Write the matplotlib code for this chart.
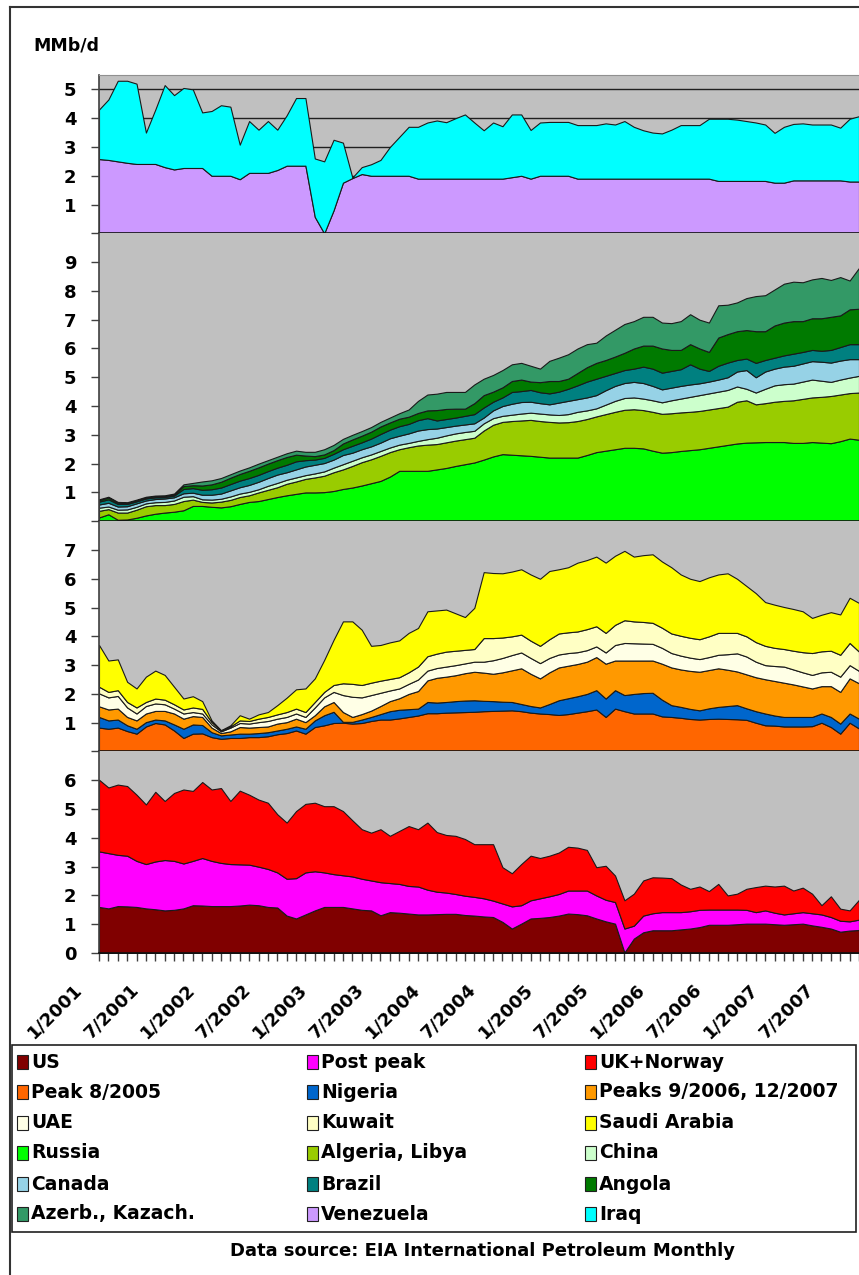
import matplotlib.pyplot as plt
from matplotlib.patches import Rectangle
from matplotlib.lines import Line2D
from matplotlib.transforms import ScaledTranslation

# monthly points, 1/2001 onwards
months = list(range(82))
date_labels = ["1/2001", "7/2001", "1/2002", "7/2002", "1/2003", "7/2003", "1/2004",
               "7/2004", "1/2005", "7/2005", "1/2006", "7/2006", "1/2007", "7/2007"]

# --- panel 1 (top) ---
venezuela = [2.58, 2.55, 2.5, 2.45, 2.41, 2.41, 2.41, 2.3, 2.22, 2.27,
             2.27, 2.27, 2.0, 2.0, 2.0, 1.88, 2.1, 2.1, 2.1, 2.2,
             2.35, 2.35, 2.35, 0.57, 0.0, 0.8, 1.76, 1.92, 2.06, 2.0,
             2.0, 2.0, 2.0, 2.0, 1.9, 1.9, 1.9, 1.9, 1.9, 1.9,
             1.9, 1.9, 1.9, 1.9, 1.95, 2.0, 1.9, 2.0, 2.0, 2.0,
             2.0, 1.9, 1.9, 1.9, 1.9, 1.9, 1.9, 1.9, 1.9, 1.9,
             1.9, 1.9, 1.9, 1.9, 1.9, 1.9, 1.82, 1.82, 1.82, 1.82,
             1.82, 1.82, 1.76, 1.76, 1.84, 1.84, 1.84, 1.84, 1.84, 1.84,
             1.8, 1.8]
iraq = [1.72, 2.1, 2.8, 2.85, 2.79, 1.09, 1.89, 2.85, 2.58, 2.78,
        2.73, 1.93, 2.25, 2.45, 2.4, 1.2, 1.8, 1.5, 1.8, 1.4,
        1.75, 2.35, 2.35, 2.03, 2.5, 2.45, 1.39, 0.02, 0.24, 0.4,
        0.55, 1.0, 1.35, 1.7, 1.8, 1.95, 2.02, 1.96, 2.1, 2.23,
        1.95, 1.68, 1.95, 1.82, 2.18, 2.13, 1.69, 1.85, 1.87, 1.87,
        1.87, 1.86, 1.86, 1.86, 1.92, 1.88, 2.0, 1.8, 1.68, 1.6,
        1.57, 1.7, 1.86, 1.86, 1.86, 2.08, 2.16, 2.16, 2.13, 2.08,
        2.03, 1.96, 1.73, 1.94, 1.96, 1.98, 1.94, 1.94, 1.94, 1.83,
        2.18, 2.27]

# --- panel 2 ---
russia = [0.13, 0.24, 0.05, 0.06, 0.12, 0.2, 0.26, 0.3, 0.33, 0.38,
          0.53, 0.53, 0.5, 0.48, 0.52, 0.6, 0.67, 0.7, 0.77, 0.84,
          0.9, 0.95, 1.0, 1.0, 1.01, 1.05, 1.12, 1.17, 1.24, 1.32,
          1.4, 1.55, 1.75, 1.75, 1.75, 1.75, 1.8, 1.85, 1.92, 1.98,
          2.04, 2.14, 2.25, 2.33, 2.31, 2.29, 2.27, 2.24, 2.21, 2.21,
          2.21, 2.21, 2.3, 2.4, 2.45, 2.5, 2.55, 2.55, 2.53, 2.45,
          2.38, 2.4, 2.44, 2.47, 2.5, 2.55, 2.6, 2.65, 2.7, 2.73,
          2.74, 2.75, 2.75, 2.75, 2.72, 2.72, 2.75, 2.73, 2.71, 2.78,
          2.87, 2.83]
algeria_libya = [0.23, 0.18, 0.25, 0.24, 0.28, 0.32, 0.3, 0.26, 0.27, 0.32,
                 0.22, 0.14, 0.15, 0.2, 0.22, 0.24, 0.23, 0.3, 0.32, 0.34,
                 0.4, 0.43, 0.47, 0.52, 0.57, 0.65, 0.68, 0.75, 0.81, 0.83,
                 0.87, 0.85, 0.75, 0.82, 0.88, 0.91, 0.88, 0.89, 0.88, 0.87,
                 0.86, 1.01, 1.1, 1.12, 1.17, 1.21, 1.25, 1.24, 1.24, 1.22,
                 1.23, 1.27, 1.25, 1.24, 1.27, 1.3, 1.32, 1.34, 1.33, 1.35,
                 1.35, 1.35, 1.34, 1.33, 1.33, 1.33, 1.33, 1.33, 1.45, 1.47,
                 1.32, 1.35, 1.4, 1.43, 1.48, 1.53, 1.55, 1.59, 1.64, 1.62,
                 1.58, 1.64]
china = [0.11, 0.09, 0.1, 0.11, 0.1, 0.1, 0.1, 0.11, 0.12, 0.15,
         0.12, 0.09, 0.1, 0.1, 0.12, 0.12, 0.12, 0.11, 0.14, 0.15,
         0.14, 0.14, 0.13, 0.14, 0.15, 0.16, 0.18, 0.18, 0.17, 0.17,
         0.17, 0.16, 0.16, 0.15, 0.16, 0.19, 0.22, 0.24, 0.25, 0.25,
         0.24, 0.25, 0.23, 0.21, 0.22, 0.24, 0.25, 0.26, 0.26, 0.26,
         0.28, 0.32, 0.3, 0.28, 0.33, 0.38, 0.41, 0.41, 0.4, 0.4,
         0.4, 0.45, 0.48, 0.52, 0.55, 0.56, 0.57, 0.58, 0.53, 0.4,
         0.41, 0.5, 0.57, 0.58, 0.58, 0.6, 0.62, 0.56, 0.49, 0.52,
         0.54, 0.58]
canada = [0.11, 0.13, 0.11, 0.11, 0.12, 0.1, 0.11, 0.12, 0.11, 0.12,
          0.12, 0.16, 0.17, 0.18, 0.21, 0.22, 0.24, 0.26, 0.27, 0.29,
          0.26, 0.28, 0.3, 0.3, 0.29, 0.28, 0.32, 0.28, 0.28, 0.28,
          0.29, 0.32, 0.31, 0.33, 0.36, 0.35, 0.32, 0.29, 0.27, 0.26,
          0.26, 0.2, 0.27, 0.34, 0.38, 0.4, 0.38, 0.36, 0.35, 0.43,
          0.46, 0.44, 0.45, 0.46, 0.5, 0.52, 0.52, 0.54, 0.54, 0.5,
          0.45, 0.44, 0.44, 0.43, 0.41, 0.41, 0.42, 0.44, 0.52, 0.65,
          0.53, 0.6, 0.58, 0.61, 0.62, 0.63, 0.64, 0.66, 0.67, 0.66,
          0.64, 0.58]
brazil = [0.1, 0.12, 0.09, 0.08, 0.07, 0.07, 0.06, 0.05, 0.06, 0.15,
          0.16, 0.17, 0.19, 0.21, 0.22, 0.23, 0.24, 0.24, 0.24, 0.24,
          0.26, 0.28, 0.22, 0.18, 0.18, 0.2, 0.2, 0.24, 0.24, 0.27,
          0.3, 0.3, 0.33, 0.33, 0.36, 0.38, 0.28, 0.28, 0.28, 0.3,
          0.32, 0.35, 0.3, 0.3, 0.41, 0.38, 0.41, 0.38, 0.38, 0.38,
          0.42, 0.48, 0.55, 0.57, 0.5, 0.45, 0.45, 0.46, 0.57, 0.6,
          0.58, 0.58, 0.58, 0.7, 0.51, 0.37, 0.48, 0.51, 0.4, 0.4,
          0.5, 0.4, 0.38, 0.39, 0.42, 0.4, 0.39, 0.38, 0.44, 0.47,
          0.52, 0.52]
angola = [0.05, 0.06, 0.04, 0.03, 0.03, 0.03, 0.03, 0.03, 0.03, 0.1,
          0.1, 0.15, 0.17, 0.2, 0.22, 0.23, 0.25, 0.26, 0.26, 0.26,
          0.27, 0.23, 0.16, 0.12, 0.12, 0.13, 0.2, 0.22, 0.23, 0.24,
          0.26, 0.25, 0.26, 0.25, 0.25, 0.27, 0.36, 0.35, 0.31, 0.25,
          0.38, 0.43, 0.35, 0.35, 0.38, 0.4, 0.29, 0.35, 0.43, 0.37,
          0.35, 0.43, 0.5, 0.55, 0.55, 0.57, 0.6, 0.7, 0.73, 0.8,
          0.84, 0.73, 0.67, 0.7, 0.7, 0.66, 0.98, 0.99, 1.0, 0.99,
          1.1, 1.0, 1.12, 1.14, 1.13, 1.07, 1.1, 1.13, 1.15, 1.1,
          1.21, 1.23]
azerb_kazach = [0.03, 0.03, 0.03, 0.03, 0.03, 0.03, 0.03, 0.03, 0.04, 0.06,
                0.08, 0.14, 0.14, 0.13, 0.12, 0.12, 0.12, 0.13, 0.12, 0.12,
                0.13, 0.14, 0.13, 0.15, 0.18, 0.18, 0.16, 0.16, 0.16, 0.16,
                0.16, 0.17, 0.19, 0.25, 0.42, 0.55, 0.57, 0.59, 0.58, 0.58,
                0.65, 0.57, 0.58, 0.6, 0.58, 0.58, 0.55, 0.47, 0.7, 0.81,
                0.85, 0.85, 0.8, 0.7, 0.85, 0.93, 1.0, 0.95, 1.0, 1.0,
                0.9, 0.93, 1.0, 1.04, 1.0, 1.02, 1.12, 1.02, 1.0, 1.11,
                1.22, 1.25, 1.25, 1.35, 1.37, 1.35, 1.35, 1.4, 1.28, 1.33,
                1.0, 1.42]

# --- panel 3 ---
peak_2005 = [0.83, 0.79, 0.83, 0.71, 0.62, 0.87, 0.99, 0.94, 0.73, 0.47,
             0.62, 0.63, 0.5, 0.44, 0.47, 0.47, 0.5, 0.5, 0.53, 0.6,
             0.64, 0.73, 0.62, 0.85, 0.91, 0.99, 1.0, 0.97, 0.99, 1.06,
             1.11, 1.11, 1.15, 1.2, 1.25, 1.33, 1.33, 1.35, 1.36, 1.37,
             1.38, 1.4, 1.41, 1.42, 1.43, 1.4, 1.35, 1.32, 1.3, 1.27,
             1.3, 1.35, 1.4, 1.46, 1.2, 1.49, 1.4, 1.32, 1.32, 1.32,
             1.22, 1.2, 1.17, 1.13, 1.11, 1.13, 1.14, 1.13, 1.12, 1.1,
             1.0, 0.91, 0.9, 0.87, 0.87, 0.87, 0.88, 1.0, 0.85, 0.62,
             1.0, 0.8]
nigeria = [0.37, 0.29, 0.28, 0.2, 0.17, 0.15, 0.12, 0.14, 0.21, 0.32,
           0.32, 0.29, 0.17, 0.12, 0.12, 0.15, 0.12, 0.14, 0.14, 0.13,
           0.15, 0.14, 0.17, 0.23, 0.35, 0.39, 0.03, 0.06, 0.12, 0.14,
           0.19, 0.29, 0.3, 0.27, 0.24, 0.39, 0.37, 0.37, 0.39, 0.4,
           0.4, 0.36, 0.34, 0.31, 0.29, 0.25, 0.23, 0.21, 0.35, 0.51,
           0.55, 0.57, 0.6, 0.67, 0.64, 0.64, 0.56, 0.68, 0.71, 0.72,
           0.58, 0.41, 0.38, 0.35, 0.32, 0.37, 0.41, 0.45, 0.49, 0.4,
           0.4, 0.41, 0.35, 0.33, 0.33, 0.33, 0.32, 0.32, 0.35, 0.35,
           0.32, 0.34]
peaks_2006_2007 = [0.37, 0.38, 0.38, 0.29, 0.29, 0.3, 0.3, 0.33, 0.38, 0.35,
                   0.29, 0.28, 0.16, 0.08, 0.11, 0.23, 0.21, 0.21, 0.2, 0.24,
                   0.23, 0.27, 0.23, 0.18, 0.31, 0.34, 0.34, 0.17, 0.19, 0.22,
                   0.28, 0.35, 0.4, 0.53, 0.61, 0.75, 0.86, 0.88, 0.9, 0.95,
                   0.99, 0.98, 0.95, 1.02, 1.1, 1.24, 1.12, 1.01, 1.1, 1.14,
                   1.13, 1.12, 1.12, 1.15, 1.21, 1.03, 1.2, 1.16, 1.13, 1.12,
                   1.25, 1.31, 1.3, 1.32, 1.34, 1.33, 1.34, 1.26, 1.17, 1.18,
                   1.18, 1.19, 1.2, 1.19, 1.13, 1.06, 0.99, 0.95, 1.07, 1.1,
                   1.22, 1.23]
uae = [0.45, 0.42, 0.44, 0.33, 0.24, 0.26, 0.26, 0.23, 0.17, 0.18,
       0.14, 0.12, 0.11, 0.06, 0.13, 0.14, 0.14, 0.17, 0.19, 0.17,
       0.18, 0.18, 0.18, 0.27, 0.31, 0.35, 0.59, 0.7, 0.58, 0.54,
       0.46, 0.37, 0.34, 0.35, 0.4, 0.34, 0.34, 0.35, 0.35, 0.34,
       0.35, 0.38, 0.47, 0.5, 0.53, 0.55, 0.55, 0.53, 0.5, 0.45,
       0.44, 0.41, 0.4, 0.37, 0.39, 0.54, 0.61, 0.6, 0.59, 0.58,
       0.55, 0.5, 0.48, 0.46, 0.44, 0.45, 0.47, 0.54, 0.63, 0.62,
       0.54, 0.49, 0.52, 0.56, 0.52, 0.49, 0.47, 0.48, 0.5, 0.53,
       0.46, 0.43]
kuwait = [0.23, 0.19, 0.2, 0.19, 0.21, 0.14, 0.17, 0.16, 0.15, 0.14,
          0.16, 0.16, 0.08, 0.03, 0.04, 0.09, 0.09, 0.12, 0.14, 0.15,
          0.17, 0.17, 0.17, 0.19, 0.19, 0.24, 0.41, 0.45, 0.43, 0.43,
          0.42, 0.4, 0.39, 0.4, 0.45, 0.5, 0.5, 0.52, 0.5, 0.47,
          0.44, 0.82, 0.77, 0.71, 0.65, 0.62, 0.6, 0.6, 0.65, 0.73,
          0.72, 0.72, 0.73, 0.7, 0.68, 0.7, 0.79, 0.76, 0.75, 0.73,
          0.7, 0.68, 0.69, 0.69, 0.69, 0.72, 0.76, 0.74, 0.71, 0.7,
          0.68, 0.67, 0.63, 0.61, 0.65, 0.7, 0.76, 0.73, 0.73, 0.76,
          0.77, 0.67]
saudi_arabia = [1.45, 1.09, 1.07, 0.7, 0.66, 0.88, 0.97, 0.86, 0.61, 0.38,
                0.39, 0.27, 0.06, 0.01, 0.04, 0.18, 0.08, 0.15, 0.17, 0.32,
                0.5, 0.67, 0.82, 0.82, 1.11, 1.57, 2.15, 2.17, 1.92, 1.28,
                1.24, 1.27, 1.28, 1.37, 1.34, 1.56, 1.5, 1.46, 1.3, 1.14,
                1.43, 2.29, 2.26, 2.23, 2.25, 2.27, 2.3, 2.33, 2.37, 2.23,
                2.26, 2.39, 2.4, 2.42, 2.44, 2.4, 2.41, 2.25, 2.32, 2.38,
                2.3, 2.3, 2.13, 2.05, 2.02, 2.05, 2.03, 2.07, 1.88, 1.75,
                1.7, 1.52, 1.5, 1.46, 1.45, 1.42, 1.22, 1.27, 1.34, 1.4,
                1.57, 1.69]

# --- panel 4 (bottom) ---
us = [1.6, 1.55, 1.63, 1.62, 1.6, 1.55, 1.52, 1.48, 1.5, 1.55,
      1.66, 1.65, 1.63, 1.63, 1.63, 1.65, 1.68, 1.66, 1.6, 1.58,
      1.3, 1.2, 1.34, 1.48, 1.6, 1.6, 1.6, 1.55, 1.5, 1.48,
      1.31, 1.42, 1.4, 1.37, 1.34, 1.34, 1.35, 1.36, 1.36, 1.32,
      1.3, 1.27, 1.25, 1.08, 0.85, 1.02, 1.2, 1.22, 1.25, 1.3,
      1.37, 1.35, 1.31, 1.2, 1.1, 1.02, 0.02, 0.5, 0.72, 0.79,
      0.79, 0.79, 0.82, 0.85, 0.9, 0.98, 0.98, 0.98, 1.0, 1.02,
      1.02, 1.02, 1.0, 0.98, 1.0, 1.02, 0.96, 0.91, 0.85, 0.74,
      0.78, 0.8]
post_peak = [1.93, 1.92, 1.78, 1.76, 1.6, 1.54, 1.66, 1.75, 1.7, 1.56,
             1.54, 1.65, 1.57, 1.5, 1.46, 1.43, 1.39, 1.34, 1.32, 1.22,
             1.28, 1.4, 1.46, 1.36, 1.2, 1.14, 1.1, 1.11, 1.08, 1.04,
             1.15, 1.01, 1.0, 0.96, 0.97, 0.86, 0.78, 0.74, 0.69, 0.67,
             0.65, 0.63, 0.57, 0.64, 0.77, 0.64, 0.63, 0.68, 0.72, 0.75,
             0.8, 0.82, 0.86, 0.8, 0.75, 0.75, 0.83, 0.45, 0.58, 0.59,
             0.63, 0.63, 0.6, 0.6, 0.6, 0.53, 0.53, 0.53, 0.51, 0.48,
             0.4, 0.46, 0.4, 0.36, 0.38, 0.4, 0.42, 0.43, 0.4, 0.38,
             0.32, 0.36]
uk_norway = [2.49, 2.28, 2.44, 2.42, 2.3, 2.07, 2.42, 2.05, 2.36, 2.57,
             2.43, 2.64, 2.48, 2.6, 2.19, 2.56, 2.43, 2.33, 2.3, 2.02,
             1.95, 2.33, 2.38, 2.38, 2.3, 2.36, 2.23, 1.95, 1.72, 1.66,
             1.84, 1.64, 1.84, 2.08, 1.99, 2.33, 2.07, 2.0, 2.02, 1.97,
             1.83, 1.88, 1.96, 1.26, 1.15, 1.43, 1.55, 1.4, 1.41, 1.44,
             1.52, 1.49, 1.41, 0.98, 1.18, 0.92, 0.98, 1.11, 1.22, 1.25,
             1.2, 1.18, 0.96, 0.78, 0.81, 0.64, 0.89, 0.49, 0.55, 0.73,
             0.87, 0.86, 0.91, 1.0, 0.79, 0.85, 0.68, 0.32, 0.72, 0.42,
             0.38, 0.69]

legend_names = ["US", "Post peak", "UK+Norway",
                "Peak 8/2005", "Nigeria", "Peaks 9/2006, 12/2007",
                "UAE", "Kuwait", "Saudi Arabia",
                "Russia", "Algeria, Libya", "China",
                "Canada", "Brazil", "Angola",
                "Azerb., Kazach.", "Venezuela", "Iraq"]
colors = {"US": "#800000", "Post peak": "#FF00FF", "UK+Norway": "#FF0000",
          "Peak 8/2005": "#FF6600", "Nigeria": "#0066CC", "Peaks 9/2006, 12/2007": "#FF9900",
          "UAE": "#FFFFE6", "Kuwait": "#FFFFC4", "Saudi Arabia": "#FFFF00",
          "Russia": "#00FF00", "Algeria, Libya": "#99CC00", "China": "#CCFFCC",
          "Canada": "#96D2E6", "Brazil": "#008080", "Angola": "#007A00",
          "Azerb., Kazach.": "#339966", "Venezuela": "#CC99FF", "Iraq": "#00FFFF"}

panels = [
    (5.5, [("Venezuela", venezuela), ("Iraq", iraq)]),
    (10, [("Russia", russia), ("Algeria, Libya", algeria_libya), ("China", china),
          ("Canada", canada), ("Brazil", brazil), ("Angola", angola),
          ("Azerb., Kazach.", azerb_kazach)]),
    (8, [("Peak 8/2005", peak_2005), ("Nigeria", nigeria),
         ("Peaks 9/2006, 12/2007", peaks_2006_2007), ("UAE", uae),
         ("Kuwait", kuwait), ("Saudi Arabia", saudi_arabia)]),
    (7, [("US", us), ("Post peak", post_peak), ("UK+Norway", uk_norway)]),
]

W, H = 859, 1275
fig = plt.figure(figsize=(W / 100, H / 100), dpi=100)
plt.rcParams['font.family'] = ['DejaVu Sans']
plt.rcParams['font.weight'] = 'bold'

top_px, bottom_px, left_px = 75, 953, 99
unit = (bottom_px - top_px) / sum(p[0] for p in panels)
edge = '#1a1a1a'
axis_col = '#404040'

y = top_px
for k, (ymax, series) in enumerate(panels):
    h = ymax * unit
    ax = fig.add_axes([left_px / W, 1 - (y + h) / H, (W - left_px) / W, h / H])
    y += h
    ax.set_facecolor('#C0C0C0')
    ax.stackplot(months, *[s[1] for s in series],
                 colors=[colors[s[0]] for s in series],
                 edgecolor=edge, linewidth=0.8, zorder=2)
    ax.set_xlim(0, 81)
    ax.set_ylim(0, ymax)
    ticks = list(range(0, int(ymax) + 1 if ymax % 1 else int(ymax)))
    ax.set_yticks(ticks)
    ax.set_yticklabels([('0' if k == 3 else '') if t == 0 else str(t) for t in ticks])
    ax.tick_params(axis='y', direction='out', length=5.8, width=1, color=axis_col,
                   pad=10.5, labelsize=13)
    if k == 0:
        for g in range(1, 6):
            ax.axhline(g, color='#202020', lw=1, zorder=1)
    ax.spines['right'].set_visible(False)
    ax.spines['left'].set_color(axis_col)
    ax.spines['left'].set_linewidth(1.2)
    ax.spines['bottom'].set_color('#101010')
    ax.spines['bottom'].set_linewidth(1.2)
    if k == 0:
        ax.spines['top'].set_color('#909090')
    else:
        ax.spines['top'].set_visible(False)
    if k < 3:
        ax.set_xticks([])
    else:
        ax.set_xticks(months)
        ax.set_xticklabels([date_labels[i // 6] if i % 6 == 0 else '' for i in months],
                           rotation=45, ha='right', va='top', rotation_mode='anchor',
                           fontsize=13)
        ax.tick_params(axis='x', direction='out', length=5.8, width=1, color=axis_col, pad=0)
        off = ScaledTranslation(-0.26, -0.19, fig.dpi_scale_trans)
        for lbl in ax.get_xticklabels():
            lbl.set_transform(lbl.get_transform() + off)

fig.text(33 / W, 1 - 45 / H, "MMb/d", fontsize=12.5, fontweight='bold', va='center')

# outer frame (cut off at right and bottom)
fig.add_artist(Line2D([10 / W, 10 / W], [0, 1 - 7 / H], color='#333333', lw=1.5))
fig.add_artist(Line2D([10 / W, 1], [1 - 7 / H, 1 - 7 / H], color='#333333', lw=1.5))

# legend box
fig.add_artist(Rectangle((12 / W, 1 - 1232 / H), (856 - 12) / W, (1232 - 1045) / H,
                         transform=fig.transFigure, fill=False, edgecolor='#202020', lw=1.2))
row_y = [1062, 1092, 1123, 1153, 1184, 1214]
col_x = [17, 307, 585]
for i, name in enumerate(legend_names):
    r, c = divmod(i, 3)
    x0, yc = col_x[c], row_y[r]
    fig.add_artist(Rectangle((x0 / W, 1 - (yc + 7) / H), 11 / W, 14 / H,
                             transform=fig.transFigure, facecolor=colors[name],
                             edgecolor='#202020', lw=0.8))
    fig.text((x0 + 14) / W, 1 - yc / H, name, fontsize=13.5, fontweight='bold', va='center')

fig.text(483 / W, 1 - 1251 / H, "Data source: EIA International Petroleum Monthly",
         fontsize=13, fontweight='bold', ha='center', va='center')

fig.savefig('out.png', dpi=100)
